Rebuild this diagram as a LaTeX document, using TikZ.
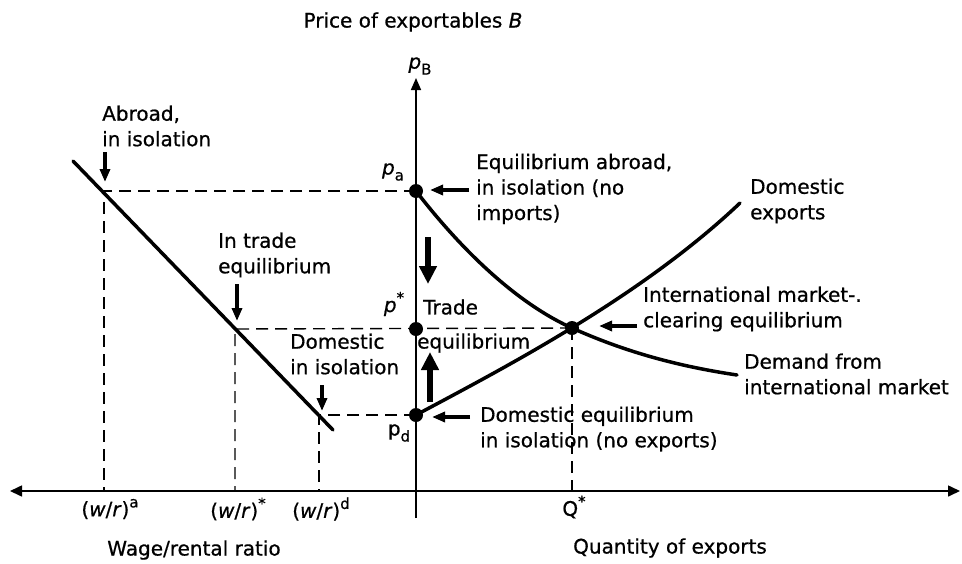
\documentclass[tikz,border=0pt]{standalone}
\usepackage{fontspec}
\setmainfont{DejaVu Sans}[FakeBold=0.7]
\usetikzlibrary{arrows.meta}
\newcommand{\lowtxt}[1]{\raisebox{-0.3em}{\fontsize{15}{15}\selectfont #1}}
\newcommand{\hightxt}[1]{\raisebox{0.45em}{\fontsize{15}{15}\selectfont #1}}
\begin{document}
\begin{tikzpicture}[x=1pt,y=-1pt,
  lbl/.style={font=\fontsize{20}{25.5}\selectfont, inner sep=0pt, align=left},
  axisline/.style={line width=1.6pt},
  curve/.style={line width=3.5pt, line cap=round},
  guide/.style={line width=1.4pt, dash pattern=on 12pt off 7pt},
  dot/.style={circle, fill=black, minimum size=14pt, inner sep=0pt},
  ptr/.style={line width=3.4pt, -{Triangle[length=13pt,width=10pt]}},
  bigptr/.style={line width=5.5pt, -{Triangle[length=18pt,width=17pt]}},
]
\useasboundingbox (0,0) rectangle (962,563);

% axes
\coordinate (xl) at (10,491);
\coordinate (xr) at (960,491);
\coordinate (yb) at (416,518);
\coordinate (yt) at (416,78);
\draw[axisline, {Triangle[length=12pt,width=11pt]}-{Triangle[length=12pt,width=11pt]}] (xl) -- (xr);
\draw[axisline, -{Triangle[length=12pt,width=10pt]}] (yb) -- (yt);

% key points
\coordinate (Pa) at (416,191);
\coordinate (Ps) at (416,329);
\coordinate (Pd) at (416,415);
\coordinate (Eq) at (572,328);
\coordinate (ca) at (104,191);
\coordinate (cs) at (235,329);
\coordinate (cd) at (319,415);

% dashed guides
\draw[guide] (Pa) -- (ca) -- (ca|-xl);
\draw[guide] (Eq) -- (cs) -- (cs|-xl);
\draw[guide] (Pd) -- (cd) -- (cd|-xl);
\draw[guide] (Eq) -- (Eq|-xl);

% wage/rental line
\coordinate (L1) at (73,161);
\coordinate (L2) at (333,430);
\draw[curve] (L1) -- (L2);

% domestic exports curve
\coordinate (DX) at (740,203);
\draw[curve] (Pd) .. controls (500,370) and (640,298) .. (DX);

% demand curve
\coordinate (DM) at (737,375);
\draw[curve] (Pa) .. controls (456,243) and (512,301) .. (Eq)
                  .. controls (632,355) and (687,367.5) .. (DM);

% dots
\node[dot] (pa) at (Pa) {};
\node[dot] (ps) at (Ps) {};
\node[dot] (pd) at (Pd) {};
\node[dot] (eq) at (Eq) {};

% labels
\node[lbl] (title) at (413,22) {Price of exportables \textit{B}};
\node[lbl] (pB) at (420,66) {\textit{p}\lowtxt{B}};
\node[lbl] (paL) at (393,172) {\textit{p}\lowtxt{a}};
\node[lbl] (psL) at (394,304) {\textit{p}\hightxt{*}};
\node[lbl] (pdL) at (399,433) {p\lowtxt{d}};

\node[lbl, anchor=west] (tAbroad) at (102,126) {Abroad,\\in isolation};
\coordinate (a1s) at (105,152); \coordinate (a1e) at (105,182);
\draw[ptr] (a1s) -- (a1e);

\node[lbl, anchor=west] (tEqA) at (476,189) {Equilibrium abroad,\\in isolation (no\\imports)};
\coordinate (a2s) at (469,190); \coordinate (a2e) at (430,190);
\draw[ptr] (a2s) -- (a2e);

\node[lbl, anchor=west] (tDomX) at (750,201) {Domestic\\exports};

\node[lbl, anchor=west] (tInT) at (218,255) {In trade\\equilibrium};
\coordinate (a3s) at (237,284); \coordinate (a3e) at (237,321);
\draw[ptr] (a3s) -- (a3e);

\coordinate (b1s) at (428,237); \coordinate (b1e) at (428,284);
\draw[bigptr] (b1s) -- (b1e);
\coordinate (b2s) at (430,402); \coordinate (b2e) at (430,352);
\draw[bigptr] (b2s) -- (b2e);

\node[lbl, anchor=west] (tTrade) at (423,307) {Trade};
\node[lbl, anchor=west] (tEquil) at (417,343) {equilibrium};

\node[lbl, anchor=west] (tDomIso) at (290,354) {Domestic\\in isolation};
\coordinate (a4s) at (322,385); \coordinate (a4e) at (322,411);
\draw[ptr] (a4s) -- (a4e);

\node[lbl, anchor=west] (tDomEq) at (480,429) {Domestic equilibrium\\in isolation (no exports)};
\coordinate (a5s) at (470,417); \coordinate (a5e) at (432,417);
\draw[ptr] (a5s) -- (a5e);

\node[lbl, anchor=west] (tIntl) at (643,309) {International market-.\\clearing equilibrium};
\coordinate (a6s) at (637,326); \coordinate (a6e) at (599,326);
\draw[ptr] (a6s) -- (a6e);

\node[lbl, anchor=west] (tDem) at (744,374) {Demand from\\international market};

% axis labels
\node[lbl] (wra) at (110,509) {(\textit{w}/\textit{r})\hightxt{a}};
\node[lbl] (wrs) at (238,509) {(\textit{w}/\textit{r})\hightxt{*}};
\node[lbl] (wrd) at (321,509) {(\textit{w}/\textit{r})\hightxt{d}};
\node[lbl] (qs) at (574,507) {Q\hightxt{*}};
\node[lbl] (xlab) at (194,550) {Wage/rental ratio};
\node[lbl] (qlab) at (670,548) {Quantity of exports};
\end{tikzpicture}
\end{document}
